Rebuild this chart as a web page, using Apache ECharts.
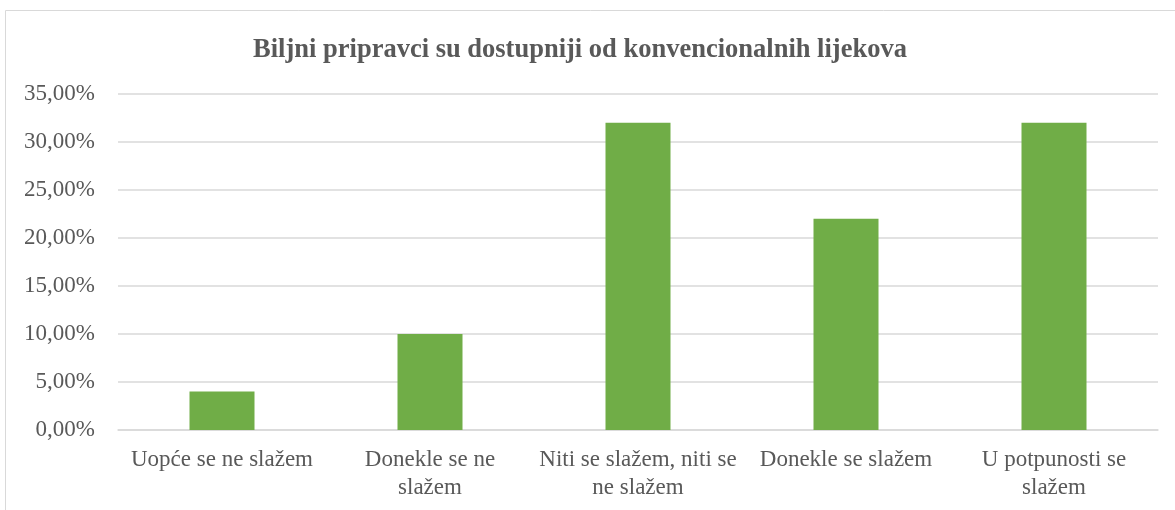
<!DOCTYPE html>
<html>
<head>
	<meta http-equiv="Content-Type" content="text/html; charset=UTF-8">
	<title>Biljni pripravci</title>
	<script src="https://cdn.jsdelivr.net/npm/echarts@6/dist/echarts.min.js"></script>
	<style>
		body { margin: 0; background: #ffffff; }
	</style>
</head>
<body>

	<div id="main" style="width: 1175px;height:510px;"></div>

	<script>
		// odgovori i postoci
		var categories = ['Uopće se ne slažem', 'Donekle se ne slažem', 'Niti se slažem, niti se ne slažem', 'Donekle se slažem', 'U potpunosti se slažem'];
		var xLabels = ['Uopće se ne slažem', 'Donekle se ne\nslažem', 'Niti se slažem, niti se\nne slažem', 'Donekle se slažem', 'U potpunosti se\nslažem'];
		var values = [4, 10, 32, 22, 32];
		var yTicks = [0, 5, 10, 15, 20, 25, 30, 35];

		var textColor = '#595959';
		var lineColor = '#d9d9d9';
		var barColor = '#70ad47';

		var myChart = echarts.init(document.getElementById('main'));

		var option = {
			animation: false,
			graphic: [{
				type: 'rect',
				shape: { x: 5.5, y: 10.5, width: 1300, height: 700 },
				style: { fill: 'none', stroke: lineColor, lineWidth: 1 },
				silent: true
			}],
			title: {
				text: 'Biljni pripravci su dostupniji od konvencionalnih lijekova',
				left: 575,
				top: 32,
				textAlign: 'center',
				textStyle: {
					fontFamily: 'Liberation Serif',
					fontWeight: 'bold',
					fontSize: 26.5,
					color: textColor
				}
			},
			grid: {
				left: 118,
				right: 17,
				top: 94,
				bottom: 80
			},
			xAxis: {
				type: 'category',
				data: categories,
				axisLine: { lineStyle: { color: lineColor, width: 1.5 } },
				axisTick: { show: false },
				axisLabel: {
					interval: 0,
					margin: 16,
					lineHeight: 28,
					fontFamily: 'Liberation Serif',
					fontSize: 23,
					color: textColor,
					formatter: function (v, i) {
						return xLabels[i];
					}
				}
			},
			yAxis: {
				type: 'value',
				min: yTicks[0],
				max: yTicks[yTicks.length - 1],
				interval: 5,
				axisLine: { show: false },
				axisTick: { show: false },
				splitLine: { lineStyle: { color: lineColor, width: 1.5 } },
				axisLabel: {
					margin: 23,
					fontFamily: 'Liberation Serif',
					fontSize: 23,
					color: textColor,
					formatter: function (v) {
						return v.toFixed(2).replace('.', ',') + '%';
					}
				}
			},
			series: [{
				type: 'bar',
				data: values,
				barWidth: 65,
				itemStyle: { color: barColor },
				silent: true
			}]
		};

		myChart.setOption(option);
	</script>

</body>
</html>
